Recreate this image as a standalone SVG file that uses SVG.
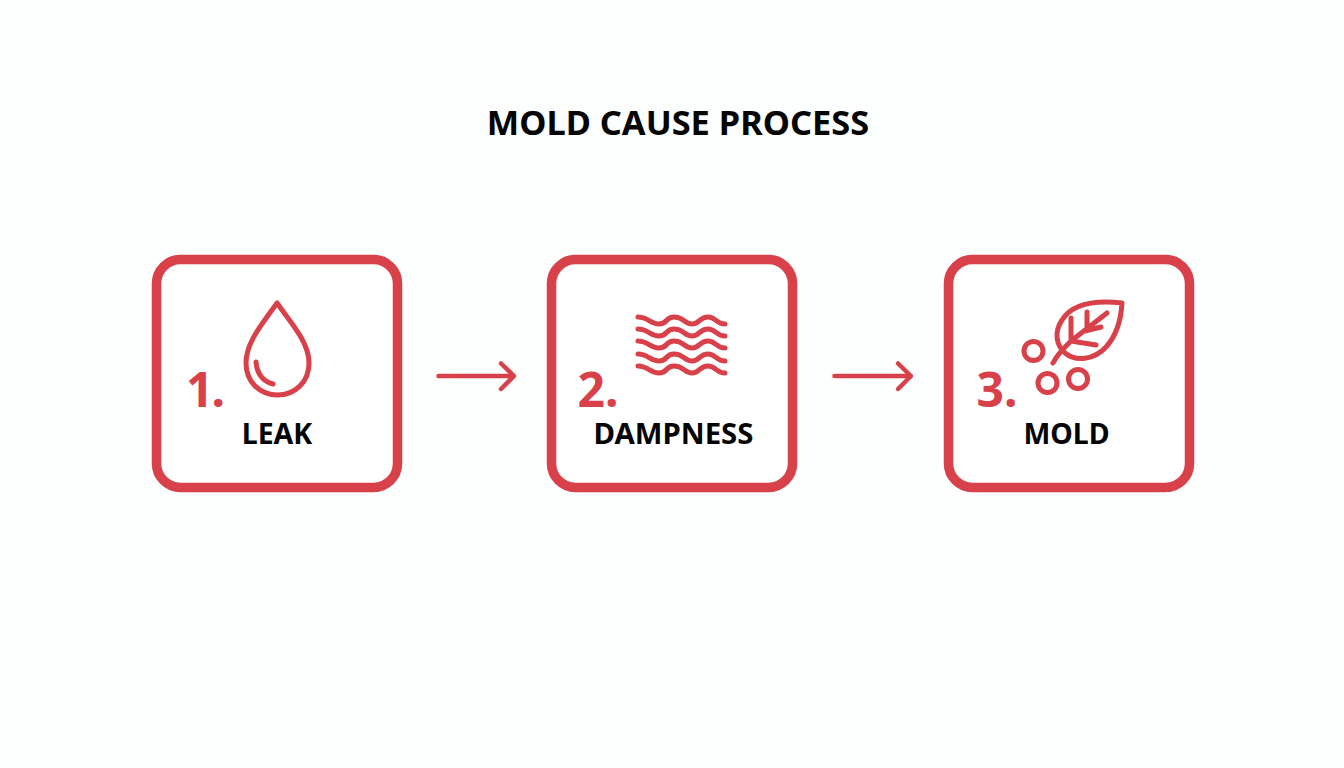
<svg xmlns="http://www.w3.org/2000/svg" width="1344" height="768" viewBox="0 0 1344 768">
<style>
.box{fill:#fff;stroke:#d9414a;stroke-width:9.500}
.ic{fill:none;stroke:#d9414a;stroke-width:5;stroke-linecap:round;stroke-linejoin:round}
.cn{fill:none;stroke:#d9414a;stroke-width:4.500;stroke-linecap:round;stroke-linejoin:round}
.num{font-family:"Noto Sans",sans-serif;font-weight:700;font-size:48px;fill:#d9414a}
.lab{font-family:"Noto Sans",sans-serif;font-weight:700;font-size:28.500px;fill:#050505;text-anchor:middle}
</style>
<rect width="1344" height="768" fill="#fdfefe"/>
<text id="title" x="678" y="134.500" font-family="'Noto Sans',sans-serif" font-weight="700" font-size="34.400" fill="#050505" text-anchor="middle">MOLD CAUSE PROCESS</text>
<g id="connectors">
<path class="cn" d="M438.500 376H513M501 363.500L514 376L501 389"/>
<path class="cn" d="M834.500 376H910M898 363.500L911 376L898 389"/>
</g>
<g id="node-leak">
<rect class="box" x="156.500" y="259.500" width="241" height="228" rx="24"/>
<path class="ic" d="M277 303C263 323 246 342 246 363C246 382 260 395 277.500 395C295 395 309 382 309 363C309 342 291 323 277 303Z"/>
<path class="ic" d="M256 362C257 374 262 381 273 384"/>
<text class="num" x="186" y="407" letter-spacing="-2">1.</text>
<text class="lab" x="277" y="444">LEAK</text>
</g>
<g id="node-dampness">
<rect class="box" x="551.500" y="259.500" width="241" height="228" rx="24"/>
<g class="ic">
<path d="M638 317C648 317 650 324 659 324C668 324 665 317 674 317C684 317 684 324 692 324C700 324 699 317 708 317C716 317 716 324 725 324"/>
<path d="M638 329C648 329 650 336 659 336C668 336 665 329 674 329C684 329 684 336 692 336C700 336 699 329 708 329C716 329 716 336 725 336"/>
<path d="M638 341C648 341 650 348 659 348C668 348 665 341 674 341C684 341 684 348 692 348C700 348 699 341 708 341C716 341 716 348 725 348"/>
<path d="M638 354C648 354 650 361 659 361C668 361 665 354 674 354C684 354 684 361 692 361C700 361 699 354 708 354C716 354 716 361 725 361"/>
<path d="M638 366C648 366 650 373 659 373C668 373 665 366 674 366C684 366 684 373 692 373C700 373 699 366 708 366C716 366 716 373 725 373"/>
</g>
<text class="num" x="577.500" y="407">2.</text>
<text class="lab" x="673.500" y="444" style="font-size:29.400px">DAMPNESS</text>
</g>
<g id="node-mold">
<rect class="box" x="948.500" y="259.500" width="241" height="228" rx="24"/>
<path class="ic" d="M1122 303C1095 300 1072 304 1062 320C1054 332 1056 345 1065 353C1076 362 1094 360 1106 347C1117 335 1121 320 1122 303Z"/>
<path class="ic" d="M1053 363C1058 353 1064 348 1071 341L1107 313M1071 341L1071 318M1087 329L1087 312M1085 331L1101 327M1071 341L1096 345"/>
<circle class="ic" cx="1033.500" cy="351" r="9.500"/>
<circle class="ic" cx="1047.500" cy="383" r="9.500"/>
<circle class="ic" cx="1078" cy="379" r="9.500"/>
<text class="num" x="976.500" y="407">3.</text>
<text class="lab" x="1066.500" y="444">MOLD</text>
</g>
</svg>
